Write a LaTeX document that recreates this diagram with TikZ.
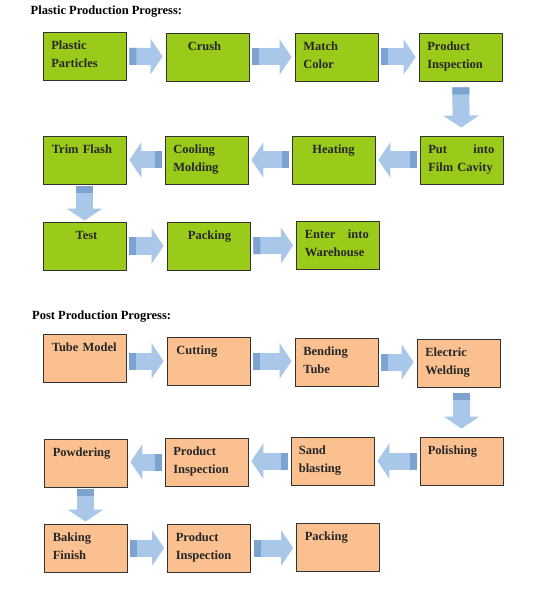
\documentclass[tikz,border=0pt]{standalone}
\usepackage{fontspec}
\setmainfont{Liberation Serif}
\usetikzlibrary{arrows.meta,calc}
\definecolor{stepgreen}{HTML}{9ACB1A}
\definecolor{steporange}{HTML}{FAC090}
\definecolor{flowblue}{HTML}{A9C7E8}
\definecolor{flowdark}{HTML}{7DA3D0}
\tikzset{
  stepbox/.style={draw=black!80, line width=0.8pt, minimum width=83pt,
    minimum height=48pt, inner sep=0pt},
  greenbox/.style={stepbox, fill=stepgreen},
  orangebox/.style={stepbox, fill=steporange},
  steptext/.style={anchor=base west, inner sep=0pt, align=left,
    text width=66pt,
    font=\fontsize{12.5}{18}\selectfont\bfseries, text=black!85},
  steptextc/.style={steptext, anchor=base, align=center},
  flow/.style={draw=flowblue, line width=17pt,
    -{Triangle[length=12pt,width=35pt]}, shorten <=3pt, shorten >=3pt,
    postaction={draw=flowdark, arrows=-, dash pattern=on 7pt off 400pt}},
  flowdown/.style={flow, shorten <=6pt, shorten >=8pt},
  title/.style={anchor=base west, inner sep=0pt,
    font=\fontsize{12.5}{15}\selectfont\bfseries},
}
\begin{document}
\begin{tikzpicture}[x=1pt,y=-1pt]
  \useasboundingbox (0,0) rectangle (542,593);

  % plastic production
  \node[title] (t1) at (30.5,14.5) {Plastic Production Progress:};

  \node[greenbox] (pp) at (84.5,56) {};
  \node[steptext] at ($(pp.north west)+(8.5,17.5)$) {Plastic\\Particles};
  \node[greenbox] (crush) at (207.5,57) {};
  \node[steptextc] at ($(crush.north)+(-3,18)$) {Crush};
  \node[greenbox] (match) at (336.5,57) {};
  \node[steptext] at ($(match.north west)+(8.5,17.5)$) {Match\\Color};
  \node[greenbox] (insp1) at (460.5,57) {};
  \node[steptext] at ($(insp1.north west)+(8.5,17.5)$) {Product\\Inspection};

  \node[greenbox] (put) at (461.5,160) {};
  \node[steptext] at ($(put.north west)+(8.5,17.5)$)
    {Put\hfill into\\Film Cavity};
  \node[greenbox] (heat) at (333.5,160) {};
  \node[steptextc] at ($(heat.north)+(0,17.5)$) {Heating};
  \node[greenbox] (cool) at (206.5,160) {};
  \node[steptext] at ($(cool.north west)+(8.5,17.5)$) {Cooling\\Molding};
  \node[greenbox] (trim) at (84.5,160) {};
  \node[steptext] at ($(trim.north west)+(9,17.5)$) {Trim Flash};

  \node[greenbox] (test) at (84.5,246) {};
  \node[steptextc] at ($(test.north)+(2,17.5)$) {Test};
  \node[greenbox] (pack1) at (208.5,246) {};
  \node[steptextc] at ($(pack1.north)+(1,17.5)$) {Packing};
  \node[greenbox] (store) at (338,245) {};
  \node[steptext, text width=64pt] at ($(store.north west)+(8.5,17.5)$)
    {Enter\hfill into\\Warehouse};

  \draw[flow] (pp) -- (crush);
  \draw[flow] (crush) -- (match);
  \draw[flow] (match) -- (insp1);
  \draw[flowdown] (insp1) -- (put);
  \draw[flow] (put) -- (heat);
  \draw[flow] (heat) -- (cool);
  \draw[flow] (cool) -- (trim);
  \draw[flowdown, shorten <=2pt, shorten >=1pt] (trim) -- (test);
  \draw[flow] (test) -- (pack1);
  \draw[flow] (pack1) -- (store);

  % post production
  \node[title] (t2) at (32,319) {Post Production Progress:};

  \node[orangebox] (tube) at (84.5,358) {};
  \node[steptext] at ($(tube.north west)+(9,17.5)$) {Tube Model};
  \node[orangebox] (cut) at (208.5,361) {};
  \node[steptext] at ($(cut.north west)+(9.5,17.5)$) {Cutting};
  \node[orangebox] (bend) at (336.5,362) {};
  \node[steptext] at ($(bend.north west)+(8.5,17.5)$) {Bending\\Tube};
  \node[orangebox] (weld) at (458.5,363) {};
  \node[steptext] at ($(weld.north west)+(8.5,17.5)$) {Electric\\Welding};

  \node[orangebox] (polish) at (461.5,461) {};
  \node[steptext] at ($(polish.north west)+(8,17.5)$) {Polishing};
  \node[orangebox] (sand) at (332.5,461) {};
  \node[steptext] at ($(sand.north west)+(8,17.5)$) {Sand\\blasting};
  \node[orangebox] (insp2) at (206.5,462) {};
  \node[steptext] at ($(insp2.north west)+(8.5,17.5)$) {Product\\Inspection};
  \node[orangebox] (powder) at (85.5,463) {};
  \node[steptext] at ($(powder.north west)+(9,17.5)$) {Powdering};

  \node[orangebox] (bake) at (85.5,548) {};
  \node[steptext] at ($(bake.north west)+(9,17.5)$) {Baking\\Finish};
  \node[orangebox] (insp3) at (209,548) {};
  \node[steptext] at ($(insp3.north west)+(8.5,17.5)$) {Product\\Inspection};
  \node[orangebox] (pack2) at (338,547) {};
  \node[steptext] at ($(pack2.north west)+(8.5,17.5)$) {Packing};

  \draw[flow] (tube.east |- cut) -- (cut);
  \draw[flow] (cut) -- (cut -| bend.west);
  \draw[flow] (bend) -- (bend -| weld.west);
  \draw[flowdown] (weld.south -| polish) -- (polish);
  \draw[flow] (polish) -- (sand);
  \draw[flow] (sand) -- (sand -| insp2.east);
  \draw[flow] (insp2) -- (insp2 -| powder.east);
  \draw[flowdown, shorten <=2pt, shorten >=2pt] (powder) -- (bake);
  \draw[flow] (bake) -- (insp3);
  \draw[flow] (insp3) -- (insp3 -| pack2.west);
\end{tikzpicture}
\end{document}
